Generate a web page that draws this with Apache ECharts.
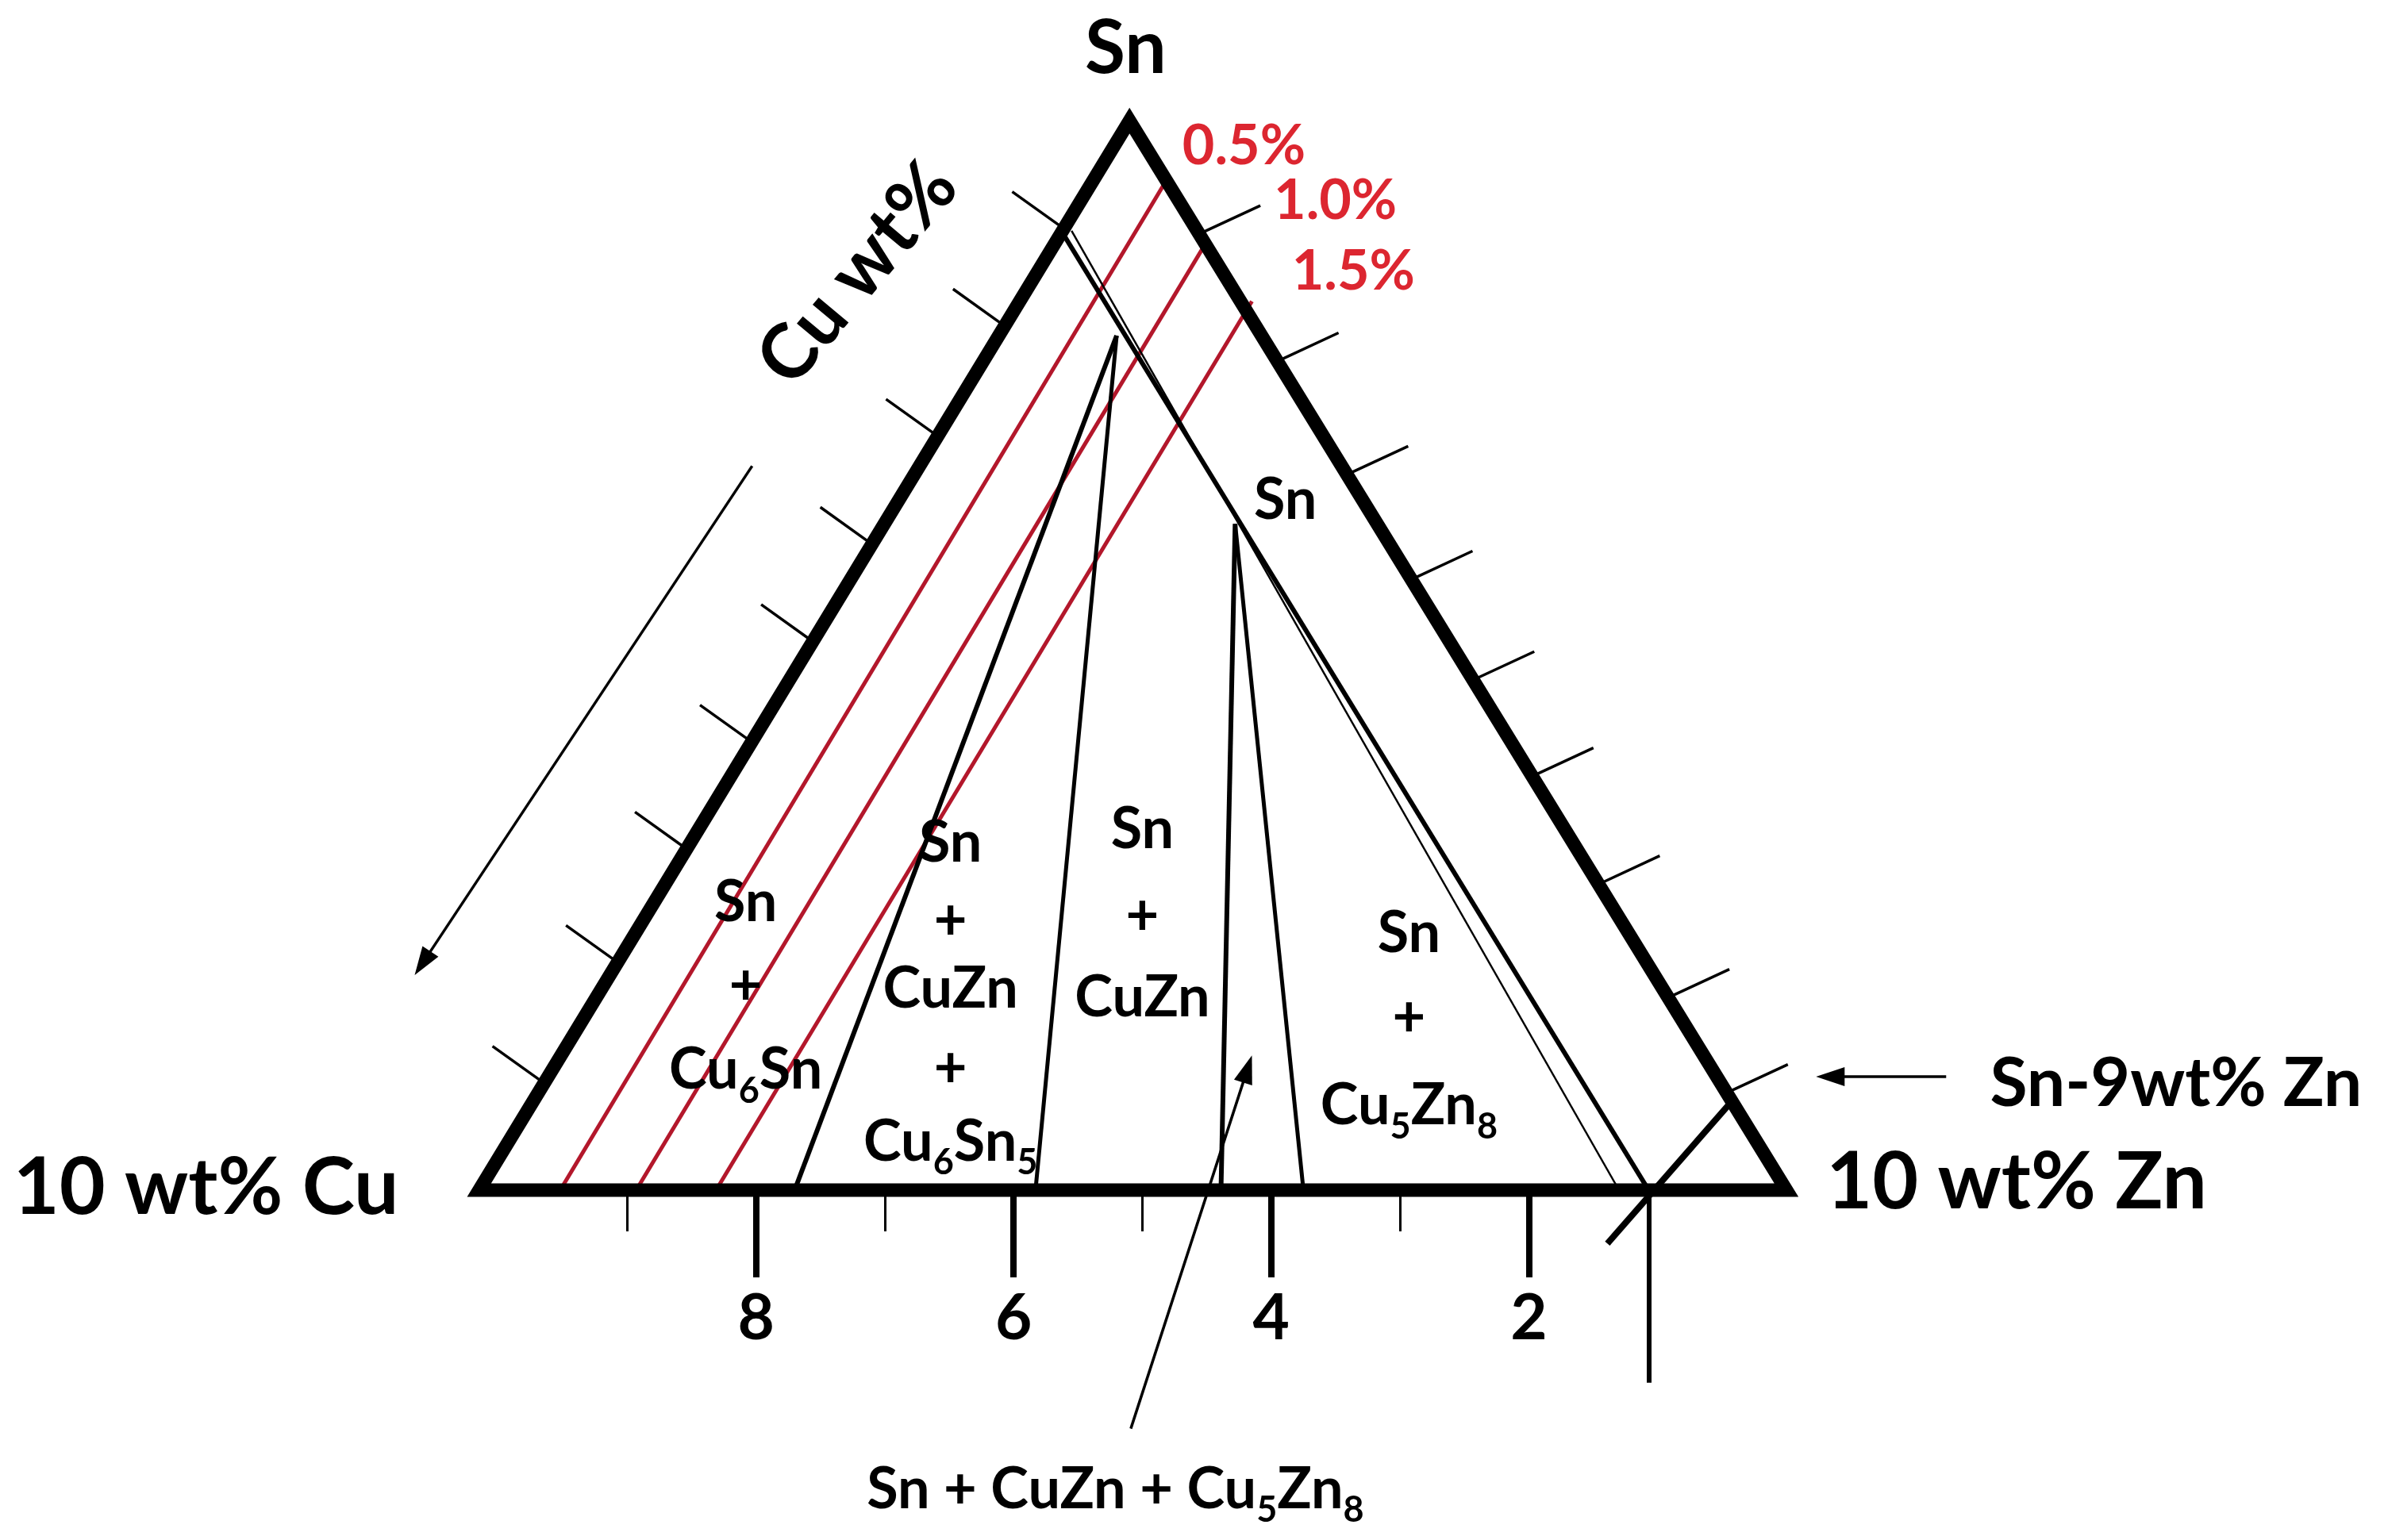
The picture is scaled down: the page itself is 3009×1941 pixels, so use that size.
<!DOCTYPE html>
<html><head><meta charset="utf-8">
<script src="https://cdn.jsdelivr.net/npm/echarts@6/dist/echarts.min.js"></script>
<style>html,body{margin:0;padding:0;background:#fff}#main{width:3009px;height:1941px}</style>
</head><body><div id="main"></div>
<script>
// ---------------- DATA (x = Cu wt% read along the base, y = Sn wt%) ----------------
const vertexLeft  = [10.15, 90];   // 10 wt% Cu
const vertexRight = [0.00, 90];    // 10 wt% Zn
const vertexTop   = [5.10, 100];   // Sn
const baseMajorTicks = [2, 4, 6, 8];
const baseMinorTicks = [3, 5, 7, 9];
const leftEdgeTicksSn  = [91.00, 92.13, 93.19, 94.19, 95.13, 96.04, 97.05, 98.08, 98.99];
const rightEdgeTicksSn = [90.91, 91.80, 92.86, 93.87, 94.77, 95.71, 96.69, 97.75, 98.94];
// Zn isopleths (red)
const isoplethNames = ['0.5%', '1.0%', '1.5%'];
const isoplethBase  = [[9.52, 90], [8.93, 90], [8.31, 90]];
const isoplethTop   = [[4.80, 99.47], [4.49, 98.89], [4.15, 98.31]];
// tie-triangle apexes
const apexP1 = [5.20, 97.99];
const apexP2 = [4.28, 96.23];
// phase boundary segments
const boundaryStart = [[5.61, 98.93], [5.55, 98.97], apexP1, apexP1, apexP2, apexP2, [0.41, 90.85], [1.07, 90.00]];
const boundaryEnd   = [[1.07, 90.00], [1.30, 90.00], [7.70, 90], [5.83, 90], [4.39, 90], [3.75, 90], [1.39, 89.50], [1.07, 88.20]];
// arrows: tail -> tip
const arrowTail = [[8.03, 96.77], [-1.24, 91.06], [5.09, 87.77]];
const arrowTip  = [[10.65, 92.01], [-0.23, 91.06], [4.15, 91.26]];
// texts
const cornerTexts = ['Sn', '10 wt% Cu', '10 wt% Zn', 'Sn-9wt% Zn', 'Cu wt%'];
const regionTexts = [
  ['Sn', '+', 'Cu{s|6}Sn'],
  ['Sn', '+', 'CuZn', '+', 'Cu{s|6}Sn{s|5}'],
  ['Sn', '+', 'CuZn'],
  ['Sn', '+', 'Cu{s|5}Zn{s|8}']
];
const singleSnText = 'Sn';
const bottomText = 'Sn + CuZn + Cu{s|5}Zn{s|8}';

// ---------------- LAYOUT / STYLE ----------------
const FONT = 'Lato, "Open Sans", "DejaVu Sans", sans-serif';
const X_MIN = -4, X_MAX = 13, Y_MIN = 90, Y_MAX = 101;
const PX_X = 162.3, PX_Y = 134.8, BASE_PX = 1500, RIGHT_PX = 2251;
const grid = {left: RIGHT_PX - PX_X * X_MAX, width: PX_X * (X_MAX - X_MIN),
              top: BASE_PX - PX_Y * (Y_MAX - Y_MIN), height: PX_Y * (Y_MAX - Y_MIN)};
const RED_LINE = '#b3172b', RED_TEXT = '#dc2630';

function onEdge(v, s) { const t = (s - 90) / 10; return [v[0] + (vertexTop[0] - v[0]) * t, s]; }

// label anchors (data units)
const textItems = [];
function addText(text, at, size, opts) { textItems.push(Object.assign({text, at, size}, opts || {})); }
addText(cornerTexts[0], [5.13, 100.67], 93);
addText(cornerTexts[1], [12.27, 90.02], 100);
addText(cornerTexts[2], [-0.31, 90.07], 100, {align: 'left'});
addText(cornerTexts[3], [-1.58, 90.99], 86, {align: 'left'});
addText(cornerTexts[4], [7.21, 98.57], 96, {rot: 50});
const isoLabelAt = [[4.69, 99.76], [3.98, 99.25], [3.84, 98.59]];
isoplethNames.forEach((t, i) => addText(t, isoLabelAt[i], 70, {align: 'left', color: RED_TEXT}));
const regionX = [8.08, 6.49, 5.00, 2.93];
const regionY = [[92.69, 91.91, 91.12], [93.24, 92.52, 91.88, 91.14, 90.45], [93.37, 92.56, 91.80], [92.40, 91.61, 90.79]];
regionTexts.forEach((col, c) => col.forEach((t, r) => addText(t, [regionX[c], regionY[c][r]], 72, {rich: true})));
addText(singleSnText, [3.89, 96.45], 72);
addText(bottomText, [5.21, 87.20], 72, {rich: true});

function richText(t) {
  const parts = t.split(/(\{s\|[^}]*\})/).filter(p => p.length);
  return parts.map(p => p.startsWith('{s|') ? p : '{n|' + p + '}').join('');
}

const boundaryWidths = [6, 2.5, 6, 5, 6, 5, 8, 6];

const option = {
  animation: false,
  backgroundColor: '#ffffff',
  grid: [Object.assign({}, grid), Object.assign({}, grid)],
  xAxis: [
    {type: 'value', gridIndex: 0, min: X_MIN, max: X_MAX, inverse: true, position: 'bottom',
     axisLine: {show: false}, splitLine: {show: false},
     axisTick: {show: true, customValues: baseMajorTicks, length: 110, inside: false, lineStyle: {color: '#000', width: 8}},
     axisLabel: {show: true, customValues: baseMajorTicks, margin: 122, fontSize: 80, fontWeight: 'bold', fontFamily: FONT, color: '#000'}},
    {type: 'value', gridIndex: 1, min: X_MIN, max: X_MAX, inverse: true, position: 'bottom',
     axisLine: {show: false}, splitLine: {show: false},
     axisTick: {show: true, customValues: baseMinorTicks, length: 52, inside: false, lineStyle: {color: '#000', width: 3}},
     axisLabel: {show: false}}
  ],
  yAxis: [
    {type: 'value', gridIndex: 0, min: Y_MIN, max: Y_MAX, show: false},
    {type: 'value', gridIndex: 1, min: Y_MIN, max: Y_MAX, show: false}
  ],
  series: [
    {type: 'lines', coordinateSystem: 'cartesian2d', clip: false, silent: true, z: 2,
     data: isoplethBase.map((b, i) => ({coords: [b, isoplethTop[i]]})),
     lineStyle: {color: RED_LINE, width: 5, opacity: 1}},
    {type: 'lines', coordinateSystem: 'cartesian2d', clip: false, silent: true, z: 3,
     data: boundaryStart.map((s, i) => ({coords: [s, boundaryEnd[i]], lineStyle: {width: boundaryWidths[i]}})),
     lineStyle: {color: '#000', width: 5, opacity: 1}},
    {type: 'custom', coordinateSystem: 'cartesian2d', clip: false, silent: true, z: 5,
     data: [vertexTop],
     renderItem: (params, api) => {
       const pts = [vertexLeft, vertexRight, vertexTop].map(p => api.coord(p));
       return {type: 'polygon', shape: {points: pts},
               style: {fill: 'none', stroke: '#000', lineWidth: 17, lineJoin: 'miter', miterLimit: 10}};
     }},
    {type: 'custom', coordinateSystem: 'cartesian2d', clip: false, silent: true, z: 4,
     data: leftEdgeTicksSn.map(s => onEdge(vertexLeft, s)),
     renderItem: (params, api) => {
       const p = api.coord([api.value(0), api.value(1)]);
       const d = [-0.813, -0.582], L = 80;
       return {type: 'line', shape: {x1: p[0], y1: p[1], x2: p[0] + d[0] * L, y2: p[1] + d[1] * L},
               style: {stroke: '#000', lineWidth: 3.5}};
     }},
    {type: 'custom', coordinateSystem: 'cartesian2d', clip: false, silent: true, z: 4,
     data: rightEdgeTicksSn.map(s => onEdge(vertexRight, s)),
     renderItem: (params, api) => {
       const p = api.coord([api.value(0), api.value(1)]);
       const d = [0.907, -0.421], L = 85;
       return {type: 'line', shape: {x1: p[0], y1: p[1], x2: p[0] + d[0] * L, y2: p[1] + d[1] * L},
               style: {stroke: '#000', lineWidth: 3.5}};
     }},
    {type: 'custom', coordinateSystem: 'cartesian2d', clip: false, silent: true, z: 6,
     data: arrowTip,
     renderItem: (params, api) => {
       const i = params.dataIndex;
       const a = api.coord(arrowTail[i]), b = api.coord(arrowTip[i]);
       const dx = b[0] - a[0], dy = b[1] - a[1], len = Math.hypot(dx, dy);
       const ux = dx / len, uy = dy / len, nx = -uy, ny = ux;
       const HL = 36, HW = 12;
       const bx = b[0] - ux * HL, by = b[1] - uy * HL;
       return {type: 'group', children: [
         {type: 'line', shape: {x1: a[0], y1: a[1], x2: bx + ux * 4, y2: by + uy * 4}, style: {stroke: '#000', lineWidth: 3.5}},
         {type: 'polygon', shape: {points: [[b[0], b[1]], [bx + nx * HW, by + ny * HW], [bx - nx * HW, by - ny * HW]]},
          style: {fill: '#000'}}
       ]};
     }},
    {type: 'custom', coordinateSystem: 'cartesian2d', clip: false, silent: true, z: 10,
     data: textItems.map(t => t.at),
     renderItem: (params, api) => {
       const it = textItems[params.dataIndex];
       const p = api.coord([api.value(0), api.value(1)]);
       const color = it.color || '#000';
       const style = {text: it.rich ? richText(it.text) : it.text, fill: color, fontSize: it.size,
                      fontFamily: FONT, fontWeight: 'bold', align: it.align || 'center', verticalAlign: 'middle'};
       if (it.rich) {
         style.rich = {
           n: {fontSize: it.size, fontFamily: FONT, fontWeight: 'bold', fill: color, lineHeight: 98},
           s: {fontSize: Math.round(it.size * 0.63), fontFamily: FONT, fontWeight: 'bold', fill: color,
               lineHeight: Math.round(it.size * 0.63), verticalAlign: 'bottom'}
         };
       }
       return {type: 'text', x: p[0], y: p[1], rotation: (it.rot || 0) * Math.PI / 180, style};
     }}
  ]
};
const chart = echarts.init(document.getElementById('main'), null, {renderer: 'canvas', width: 3009, height: 1941});
chart.setOption(option);
</script>
</body></html>
